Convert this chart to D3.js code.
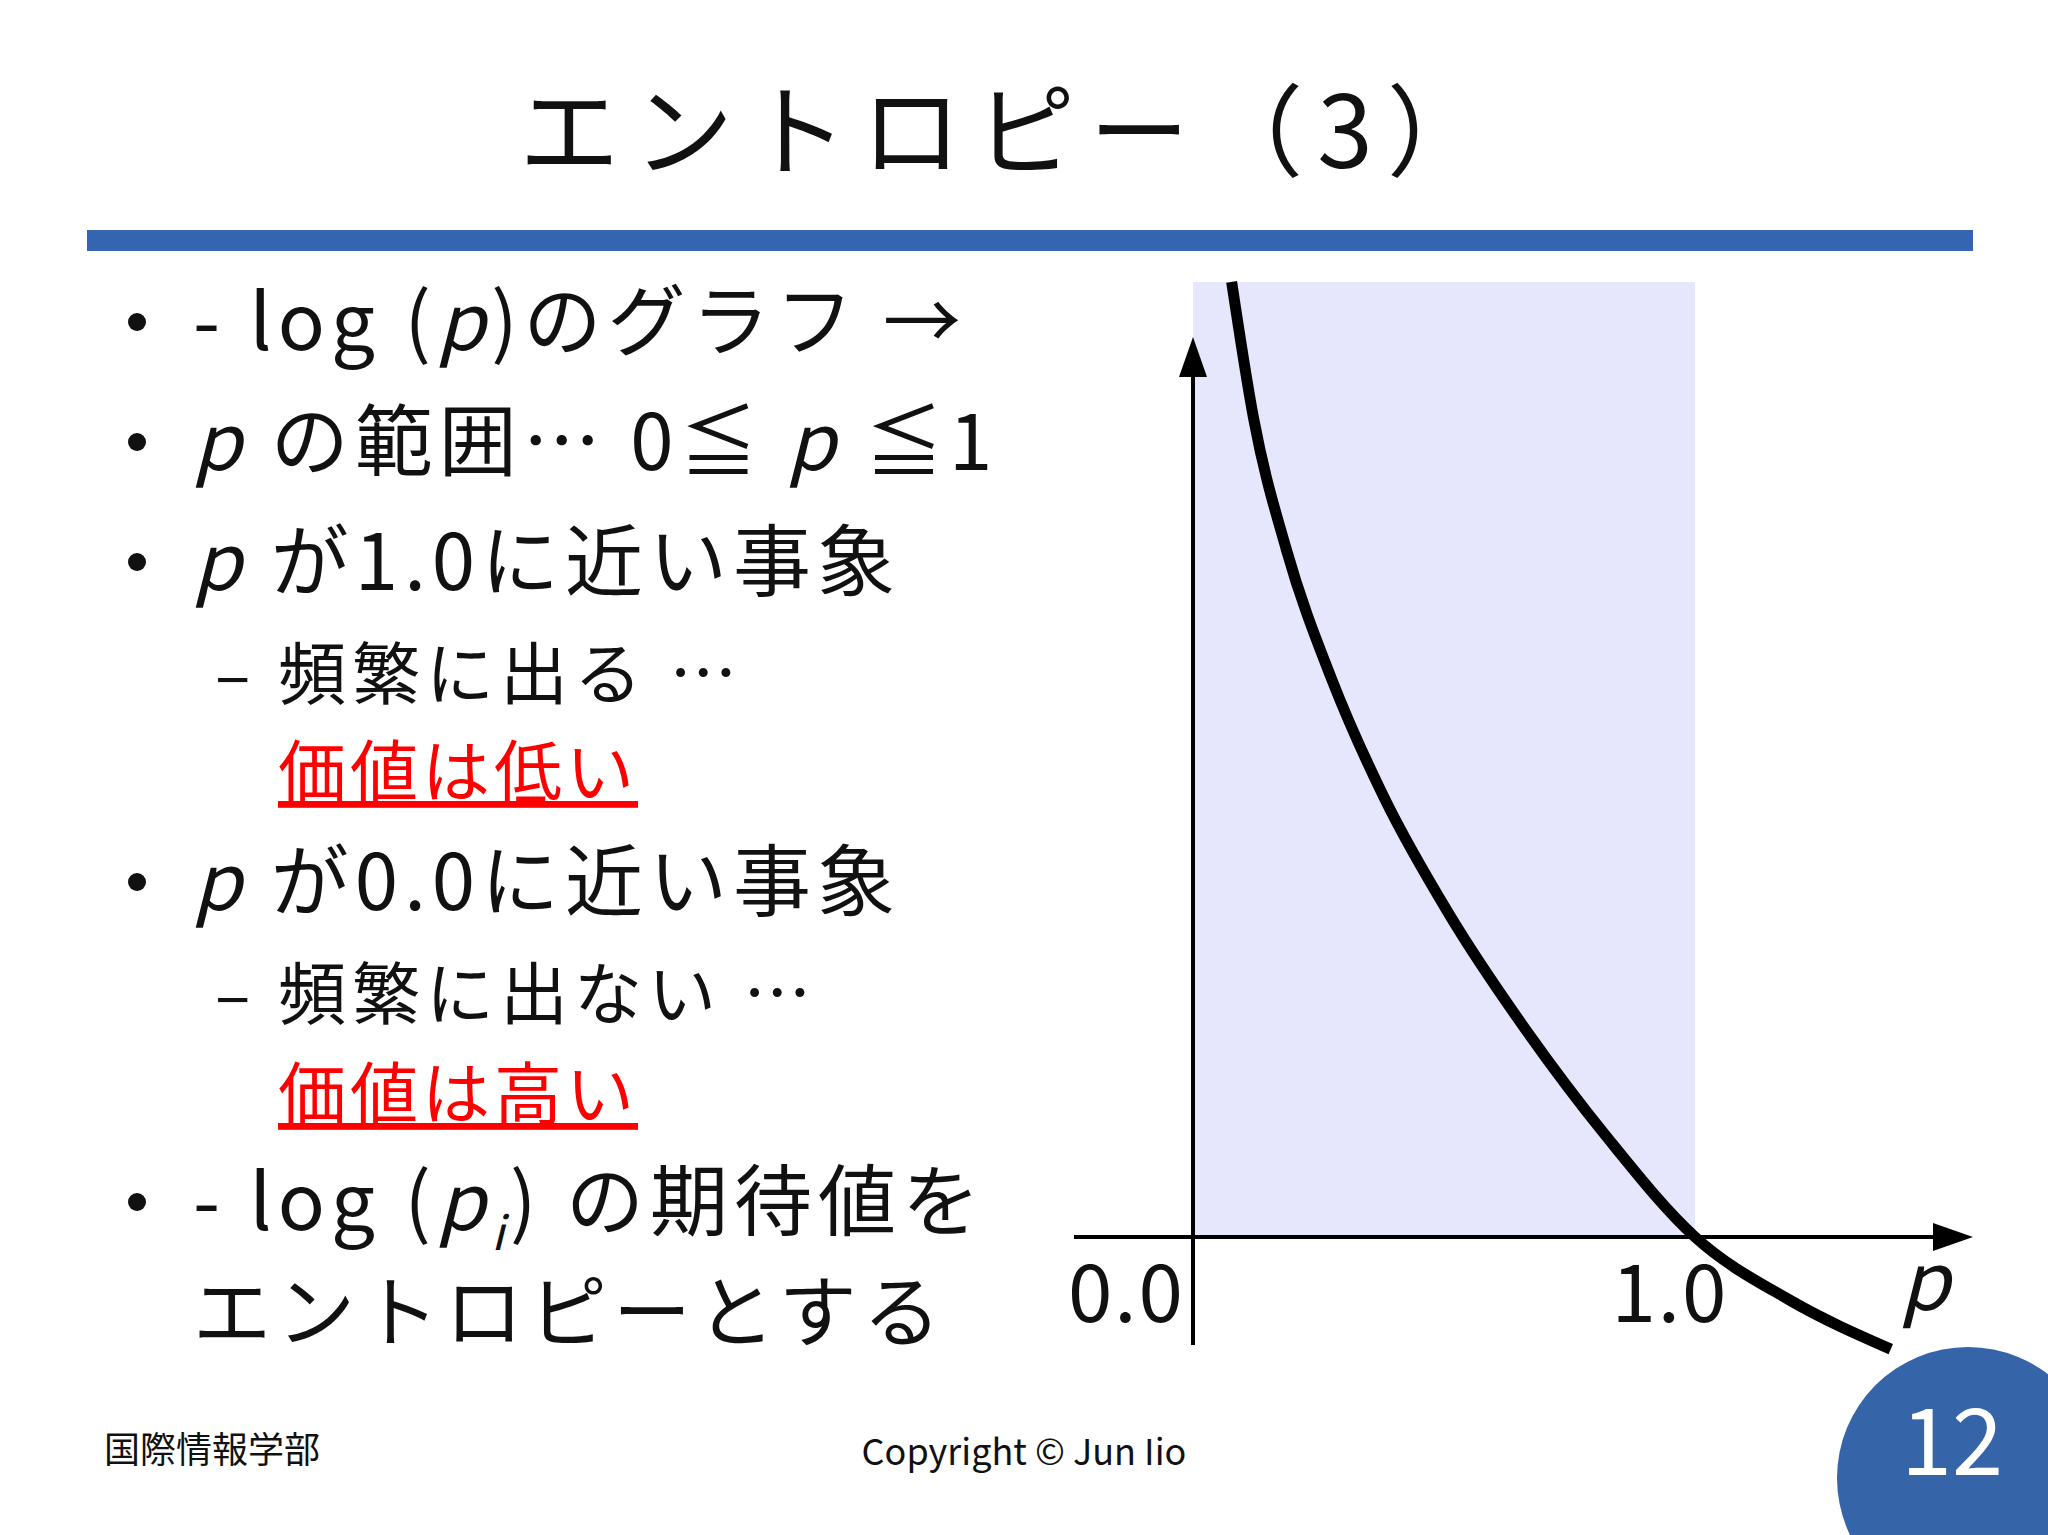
<!DOCTYPE html>
<html><head><meta charset="utf-8">
<script src="https://cdn.jsdelivr.net/npm/d3@7"></script>
<style>body{margin:0;background:#fff}text{font-family:"Noto Sans CJK JP","Noto Sans",sans-serif}</style>
</head><body><svg id="c" width="2048" height="1535"></svg>
<script>
const curveP =     [0.077,0.121,0.186,0.277,0.381,0.511,0.667,0.823,1.0,1.187,1.390];
const curveVal =   [2.547,2.181,1.833,1.485,1.171,0.859,0.545,0.269,0,-0.167,-0.299];
const tickLabels = ["0.0","1.0"];
const tickValues = [0,1];

const svg = d3.select("#c");
const x = d3.scaleLinear().domain([0,1]).range([1193,1695]);
const y = d3.scaleLinear().domain([0,1]).range([1237,862]);

svg.append("text").attr("x",1010).attr("y",168).attr("text-anchor","middle")
  .attr("font-size",100).attr("letter-spacing",14).attr("fill","#111").text("エントロピー（3）");
svg.append("rect").attr("x",87).attr("y",230).attr("width",1886).attr("height",21).attr("fill","#3565b0");

svg.append("rect").attr("x",x(0)).attr("y",282).attr("width",x(1)-x(0)).attr("height",y(0)-282).attr("fill","#e6e6fc");

svg.append("line").attr("x1",1074).attr("x2",1940).attr("y1",y(0)).attr("y2",y(0)).attr("stroke","#000").attr("stroke-width",4);
svg.append("path").attr("d",`M1973,${y(0)} L1933,${y(0)-14} L1933,${y(0)+14}Z`).attr("fill","#000");
svg.append("line").attr("x1",x(0)).attr("x2",x(0)).attr("y1",1345).attr("y2",370).attr("stroke","#000").attr("stroke-width",4);
svg.append("path").attr("d",`M${x(0)},337 L${x(0)-14},377 L${x(0)+14},377Z`).attr("fill","#000");

const pts = curveP.map((p,i)=>[p,curveVal[i]]);
svg.append("path").datum(pts).attr("fill","none").attr("stroke","#000").attr("stroke-width",11)
  .attr("d",d3.line().x(d=>x(d[0])).y(d=>y(d[1])).curve(d3.curveMonotoneX));

tickValues.forEach((v,i)=>{
  svg.append("text").attr("x",i==0?x(v)-8:x(v)-25).attr("y",1322).attr("text-anchor",i==0?"end":"middle")
    .attr("font-size",80).attr("letter-spacing",2).attr("fill","#111").text(tickLabels[i]);
});
svg.append("text").attr("x",1900).attr("y",1310).attr("font-size",80).attr("font-style","italic").attr("fill","#111").text("p");

function line(yy, xx, size, parts, color, underline, ls){
  const t = svg.append("text").attr("x",xx).attr("y",yy).attr("font-size",size).attr("fill",color||"#111")
    .attr("letter-spacing",ls==null?6:ls);
  if(underline) t.attr("text-decoration","underline");
  parts.forEach(p=>{
    const s=t.append("tspan").text(p[0]);
    if(p[1]==="i") s.attr("font-style","italic");
    if(p[1]==="sub") s.attr("font-style","italic").attr("font-size",size*0.6).attr("dy",20);
    if(p[1]==="up") s.attr("dy",-20);
  });
}
const bullets=[350,470,590,910,1230];
bullets.forEach(b=>svg.append("circle").attr("cx",137).attr("cy",b-28).attr("r",9).attr("fill","#111"));
line(350,193,78,[["- log ("],["p","i"],[")のグラフ →"]]);
line(470,193,78,[["p","i"],[" の範囲… 0≦ "],["p","i"],[" ≦1"]]);
line(590,193,78,[["p","i"],[" が1.0に近い事象"]]);
line(699,215,66,[["–"]]);
line(699,278,68,[["頻繁に出る …"]]);
line(797,278,68,[["価値は低い"]],"#ff0000",true,4);
line(910,193,78,[["p","i"],[" が0.0に近い事象"]]);
line(1019,215,66,[["–"]]);
line(1019,278,68,[["頻繁に出ない …"]]);
line(1119,278,68,[["価値は高い"]],"#ff0000",true,4);
line(1230,193,78,[["- log ("],["p","i"],["i","sub"],[") の期待値を","up"]]);
line(1341,193,78,[["エントロピーとする"]]);

svg.append("text").attr("x",104).attr("y",1463).attr("font-size",36).attr("fill","#111").text("国際情報学部");
svg.append("text").attr("x",1024).attr("y",1465).attr("text-anchor","middle").attr("font-size",36).attr("fill","#111").text("Copyright © Jun Iio");
svg.append("circle").attr("cx",1968).attr("cy",1478).attr("r",131).attr("fill","#3565a8");
svg.append("text").attr("x",1952).attr("y",1475).attr("text-anchor","middle").attr("font-size",92).attr("fill","#fff").text("12");
</script></body></html>
